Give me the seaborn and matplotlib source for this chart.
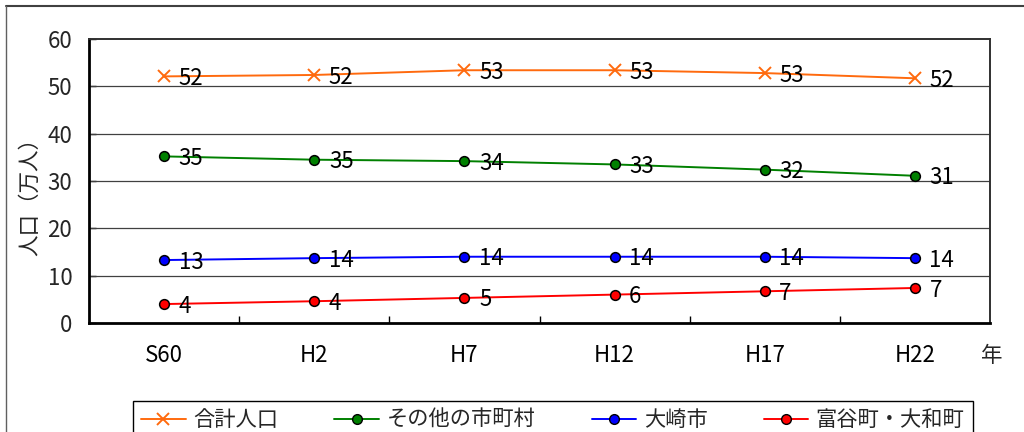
import numpy as np
import pandas as pd
import matplotlib
matplotlib.use("Agg")
import matplotlib.pyplot as plt
from matplotlib.lines import Line2D
from matplotlib.ticker import FixedLocator
import seaborn as sns

# ---- data ----
categories = ["S60", "H2", "H7", "H12", "H17", "H22"]
series_names = ["合計人口", "その他の市町村", "大崎市", "富谷町・大和町"]
total = [52.1, 52.4, 53.4, 53.4, 52.8, 51.7]
others = [35.2, 34.5, 34.2, 33.5, 32.4, 31.1]
osaki = [13.3, 13.7, 14.0, 14.0, 14.0, 13.7]
tomiya = [4.0, 4.6, 5.3, 6.0, 6.7, 7.4]
total_labels = ["52", "52", "53", "53", "53", "52"]
others_labels = ["35", "35", "34", "33", "32", "31"]
osaki_labels = ["13", "14", "14", "14", "14", "14"]
tomiya_labels = ["4", "4", "5", "6", "7", "7"]
y_ticks = [0, 10, 20, 30, 40, 50, 60]
y_label = "人口（万人）"
x_unit = "年"

sns.set_theme(style="white")
plt.rcParams["font.family"] = ["Noto Sans CJK JP", "DejaVu Sans"]

num_font = ["Noto Sans CJK JP", "DejaVu Sans"]
cjk_font = ["Noto Sans CJK JP", "DejaVu Sans"]
num_size = 16

fig = plt.figure(figsize=(10.24, 4.32), dpi=100)
ax = fig.add_axes([89 / 1024, 1 - 323 / 432, (990 - 89) / 1024, (323 - 39) / 432])

pos = np.arange(len(categories))
values = [total, others, osaki, tomiya]
labels = [total_labels, others_labels, osaki_labels, tomiya_labels]
colors = ["#FF6A0E", "#008000", "#0000FF", "#FF0000"]
markers = ["x", "o", "o", "o"]

for name, vals, lab, col, mk in zip(series_names, values, labels, colors, markers):
    df = pd.DataFrame({"x": pos, "y": vals})
    if mk == "x":
        sns.lineplot(data=df, x="x", y="y", ax=ax, color=col, linewidth=1.4,
                     marker="x", markersize=9, markeredgewidth=1.4,
                     markeredgecolor=col, label=name, zorder=3)
    else:
        sns.lineplot(data=df, x="x", y="y", ax=ax, color=col, linewidth=1.4,
                     marker="o", markersize=7, markeredgewidth=1.1,
                     markerfacecolor=col, markeredgecolor="black", label=name, zorder=3)
    for xi, yi, t in zip(pos, vals, lab):
        ax.annotate(t, (xi, yi), xytext=(10.5, -1.5), textcoords="offset points",
                    ha="left", va="center", fontsize=num_size, family=num_font,
                    color="black", zorder=4)

ax.set_xlim(-0.5, len(categories) - 0.5)
ax.set_ylim(0, 60)
ax.set_xticks(pos)
ax.set_xticklabels(categories, fontsize=num_size, family=num_font)
ax.xaxis.set_minor_locator(FixedLocator(pos[:-1] + 0.5))
ax.tick_params(axis="x", which="major", length=0, pad=15, colors="black")
ax.tick_params(axis="x", which="minor", direction="in", length=5, width=1, color="black",
               bottom=True)
ax.set_yticks(y_ticks)
ax.set_yticklabels([str(v) for v in y_ticks], fontsize=num_size, family=num_font)
ax.tick_params(axis="y", which="major", direction="in", length=5, width=1, color="black",
               pad=12, left=True)
ax.grid(False)
for yv in y_ticks[1:-1]:
    ax.axhline(yv, color="#404040", linewidth=0.9, zorder=1)
ax.set_xlabel("")
ax.set_ylabel("")
for s in ["left", "bottom"]:
    ax.spines[s].set_linewidth(2.0)
    ax.spines[s].set_color("black")
for s in ["top", "right"]:
    ax.spines[s].set_linewidth(1.4)
    ax.spines[s].set_color("#303030")

ax.get_legend().remove()

fig.text(30 / 1024, 1 - 191 / 432, y_label, rotation=90, ha="center", va="center",
         fontsize=15.5, family=cjk_font)
fig.text(992 / 1024, 1 - 356 / 432, x_unit, ha="center", va="center",
         fontsize=15.5, family=cjk_font)

handles = [
    Line2D([], [], color=colors[0], marker="x", markersize=9, markeredgewidth=1.4, linewidth=1.4),
    Line2D([], [], color=colors[1], marker="o", markersize=7, markerfacecolor=colors[1],
           markeredgecolor="black", linewidth=1.4),
    Line2D([], [], color=colors[2], marker="o", markersize=7, markerfacecolor=colors[2],
           markeredgecolor="black", linewidth=1.4),
    Line2D([], [], color=colors[3], marker="o", markersize=7, markerfacecolor=colors[3],
           markeredgecolor="black", linewidth=1.4),
]
leg = fig.legend(handles, series_names, loc="upper left", bbox_to_anchor=(133 / 1024, 1 - 401 / 432),
                 ncol=4, frameon=True, fancybox=False, framealpha=1, edgecolor="black",
                 prop={"family": cjk_font, "size": 15.3}, handlelength=2.1, handletextpad=0.35,
                 columnspacing=2.65, borderpad=0.38, borderaxespad=0)
leg.get_frame().set_linewidth(1.0)

# outer frame
fig.add_artist(Line2D([6 / 1024, 1.0], [1 - 6 / 432, 1 - 6 / 432], transform=fig.transFigure,
                      color="#404040", linewidth=1.5))
fig.add_artist(Line2D([6 / 1024, 6 / 1024], [0, 1 - 6 / 432], transform=fig.transFigure,
                      color="#606060", linewidth=1.0))

fig.savefig("out.png", dpi=100)
